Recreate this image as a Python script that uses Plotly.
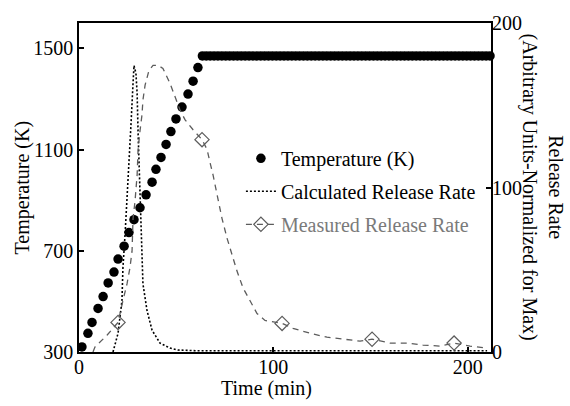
import plotly.graph_objects as go

# ---- data ----
# Temperature (K), left axis
temp_time = [1.5, 4.6, 6.7, 9.8, 12.4, 15.0, 18.0, 20.1, 23.2, 25.7, 28.3, 31.4, 34.5, 37.6, 39.6,
             42.2, 44.8, 47.3, 49.9, 53.0, 56.1, 58.7, 61.2,
             63.5, 65.5, 67.5, 69.5, 71.5, 73.5, 75.5, 77.5, 79.5, 81.5, 83.5, 85.5, 87.5, 89.5,
             91.5, 93.5, 95.5, 97.5, 99.5, 101.5, 103.5, 105.5, 107.5, 109.5, 111.5, 113.5, 115.5,
             117.5, 119.5, 121.5, 123.5, 125.5, 127.5, 129.5, 131.5, 133.5, 135.5, 137.5, 139.5,
             141.5, 143.5, 145.5, 147.5, 149.5, 151.5, 153.5, 155.5, 157.5, 159.5, 161.5, 163.5,
             165.5, 167.5, 169.5, 171.5, 173.5, 175.5, 177.5, 179.5, 181.5, 183.5, 185.5, 187.5,
             189.5, 191.5, 193.5, 195.5, 197.5, 199.5, 201.5, 203.5, 205.5, 207.5, 209.5, 211.5]
temp_K = [320, 374, 417, 472, 519, 573, 616, 667, 718, 772, 823, 870, 921, 971, 1022,
          1069, 1120, 1171, 1221, 1268, 1319, 1370, 1424,
          1470, 1470, 1470, 1470, 1470, 1470, 1470, 1470, 1470, 1470, 1470, 1470, 1470, 1470,
          1470, 1470, 1470, 1470, 1470, 1470, 1470, 1470, 1470, 1470, 1470, 1470, 1470,
          1470, 1470, 1470, 1470, 1470, 1470, 1470, 1470, 1470, 1470, 1470, 1470,
          1470, 1470, 1470, 1470, 1470, 1470, 1470, 1470, 1470, 1470, 1470, 1470,
          1470, 1470, 1470, 1470, 1470, 1470, 1470, 1470, 1470, 1470, 1470, 1470,
          1470, 1470, 1470, 1470, 1470, 1470, 1470, 1470, 1470, 1470, 1470, 1470]

# Calculated release rate, right axis
calc_time = [17.5, 20.1, 22.1, 22.6, 23.7, 24.7, 25.7, 26.8, 27.8, 28.3, 29.3, 29.9, 30.4, 30.9,
             31.9, 32.4, 32.9, 35.0, 37.6, 41.7, 46.8, 50.9, 60, 100, 150, 210]
calc_rate = [0, 11.4, 31.2, 51.1, 71.5, 91.3, 115.3, 139.3, 163.4, 174.2, 169.4, 157.4, 133.3, 115.3,
             91.3, 61.3, 41.4, 25.2, 13.2, 5.4, 2.4, 1.2, 0.8, 0.8, 0.8, 0.8]

# Measured release rate, right axis
meas_time = [7.2, 8.2, 14.4, 20.1, 22.6, 24.7, 26.2, 27.3, 27.8, 28.8, 29.9, 30.4, 31.4, 32.4, 32.9,
             34.0, 36.0, 38.1, 40.7, 43.2, 46.8, 49.4, 52.0, 54.6, 58.7, 63.3, 65.9, 67.4, 69.0,
             71.5, 73.6, 76.2, 78.7, 81.3, 84.4, 88.0, 91.6, 95.7, 104.5, 110.1, 118.9, 127.6,
             135.9, 144.6, 150.8, 160.1, 168.8, 177.0, 185.8, 193.0, 201.2, 210.0]
meas_rate = [0, 3.0, 10.2, 18.0, 31.2, 41.4, 51.1, 61.3, 81.1, 91.3, 107.5, 123.1, 134.5, 144.1, 153.2,
             162.2, 171.2, 174.2, 174.2, 172.4, 163.4, 155.6, 147.1, 141.1, 135.1, 129.1, 123.1, 115.3,
             107.5, 93.1, 81.1, 69.1, 59.5, 49.2, 39.0, 31.2, 23.4, 19.2, 17.4, 14.4, 11.4, 9.0,
             7.8, 6.6, 7.8, 5.4, 5.4, 4.2, 3.6, 5.4, 3.6, 2.4]
# measured points marked with diamonds
diam_time = [20.1, 63.3, 104.5, 150.8, 193.0]
diam_rate = [18.0, 129.1, 17.4, 7.8, 5.4]

x_ticks = [0, 100, 200]
y_ticks = [300, 700, 1100, 1500]
y2_ticks = [0, 100, 200]

FONT = "Liberation Serif, Times New Roman, serif"
GRAY = "#5c5c5c"

fig = go.Figure()

# release rates (drawn first, under the temperature dots)
fig.add_trace(go.Scatter(x=calc_time, y=calc_rate, yaxis="y2", mode="lines",
                         line=dict(color="black", width=1.6, dash="2px,2px"),
                         showlegend=False, hoverinfo="skip"))
fig.add_trace(go.Scatter(x=meas_time, y=meas_rate, yaxis="y2", mode="lines",
                         line=dict(color=GRAY, width=1.3, dash="6px,5px"),
                         showlegend=False, hoverinfo="skip"))
fig.add_trace(go.Scatter(x=diam_time, y=diam_rate, yaxis="y2", mode="markers",
                         marker=dict(symbol="diamond-open", size=11, color=GRAY,
                                     line=dict(width=1.2, color=GRAY)),
                         showlegend=False, hoverinfo="skip"))

# temperature
fig.add_trace(go.Scatter(x=temp_time, y=temp_K, mode="markers", name="Temperature (K)",
                         marker=dict(symbol="circle", size=9.5, color="black"),
                         cliponaxis=False, legendrank=1, legendgroup="a"))

# legend-only entries
fig.add_trace(go.Scatter(x=[None], y=[None], yaxis="y2", mode="lines",
                         name="Calculated Release Rate",
                         line=dict(color="black", width=1.6, dash="2px,2px"),
                         legendrank=2, legendgroup="b"))
fig.add_trace(go.Scatter(x=[None], y=[None], yaxis="y2", mode="lines+markers",
                         name='<span style="color:#7a7a7a">Measured Release Rate</span>',
                         line=dict(color=GRAY, width=1.3, dash="6px,5px"),
                         marker=dict(symbol="diamond-open", size=11, color=GRAY,
                                     line=dict(width=1.2, color=GRAY)),
                         legendrank=3, legendgroup="c"))

axis_common = dict(showgrid=False, zeroline=False, linecolor="black", linewidth=1.5,
                   ticks="inside", ticklen=5, tickwidth=1.5, tickcolor="black",
                   tickfont=dict(family=FONT, size=20, color="black"))

fig.update_layout(
    width=570, height=406,
    margin=dict(l=79, r=79, t=19, b=54),
    paper_bgcolor="white", plot_bgcolor="white",
    font=dict(family=FONT, size=20, color="black"),
    xaxis=dict(range=[0, 212], tickvals=x_ticks, showline=True, mirror=True,
               ticklabelstandoff=-4, **axis_common),
    yaxis=dict(range=[300, 1600], tickvals=y_ticks, showline=True, mirror=True, **axis_common),
    yaxis2=dict(range=[0, 200], tickvals=y2_ticks, overlaying="y", side="right",
                showline=False, **axis_common),
    legend=dict(x=0.393, y=0.648, xanchor="left", yanchor="top", bgcolor="rgba(0,0,0,0)",
                font=dict(family=FONT, size=20, color="black"),
                traceorder="grouped", tracegroupgap=4, itemwidth=30),
    showlegend=True,
    annotations=[
        dict(text="Temperature (K)", textangle=-90, xref="paper", yref="paper",
             x=-0.136, y=0.5, xanchor="center", yanchor="middle", showarrow=False,
             font=dict(family=FONT, size=20, color="black")),
        dict(text="Time (min)", xref="paper", yref="paper",
             x=0.454, y=-0.11, xanchor="center", yanchor="middle", showarrow=False,
             font=dict(family=FONT, size=20, color="black")),
        dict(text="Release Rate<br>(Arbitrary Units-Normalized for Max)", textangle=90,
             xref="paper", yref="paper", x=1.126, y=0.5, xanchor="center", yanchor="middle",
             showarrow=False, font=dict(family=FONT, size=20, color="black")),
    ],
)

fig.write_html("out.html", config={"displayModeBar": False},
               post_script="document.body.style.margin='0';document.body.style.padding='0';")
